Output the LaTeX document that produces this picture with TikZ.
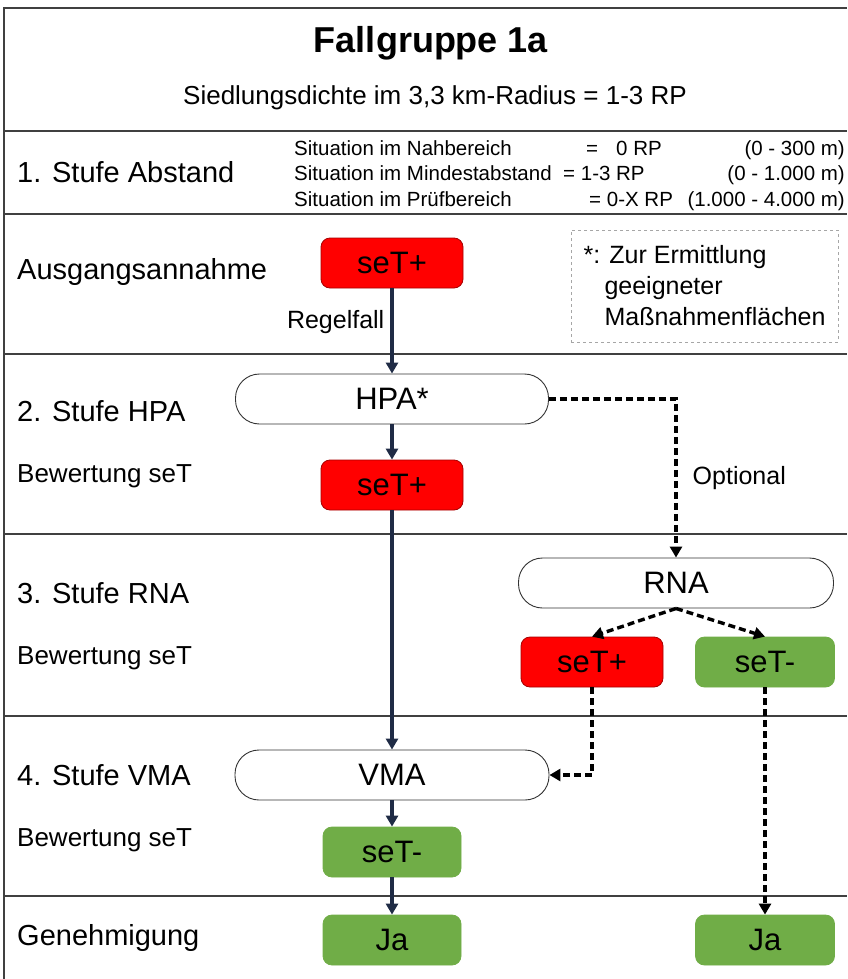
\documentclass[tikz,border=0pt]{standalone}
\usepackage{fontspec}
\setmainfont{Liberation Sans}
\usetikzlibrary{arrows.meta}
\definecolor{setred}{HTML}{FF0000}
\definecolor{setgreen}{HTML}{70AD47}
\definecolor{flowblue}{HTML}{1F2B45}
\newcommand\fsz[1]{\fontsize{#1}{#1}\selectfont}

\begin{document}
\begin{tikzpicture}[x=1pt,y=-1pt,
    sepline/.style={draw=gray!50!black,line width=1.6pt},
    stufe/.style={anchor=west,inner sep=0pt,font=\fsz{29}},
    bewert/.style={anchor=west,inner sep=0pt,font=\fsz{26}},
    sit/.style={inner sep=0pt,font=\fsz{20.5}},
    evalbox/.style={rounded corners=9pt,minimum width=142,minimum height=50,font=\fsz{31},line width=0.8pt},
    posbox/.style={evalbox,fill=setred,draw=red!65!black},
    negbox/.style={evalbox,fill=setgreen,draw=setgreen},
    pill/.style={draw=gray!40!black,fill=white,rounded corners=24pt,minimum height=50,font=\fsz{31},line width=0.9pt},
    flow/.style={-{Triangle[length=11pt,width=12pt]},draw=flowblue,line width=3.4pt},
    opt/.style={-{Triangle[length=11pt,width=12pt]},dash pattern=on 7pt off 4pt,line width=3.4pt}]
  \useasboundingbox (0,0) rectangle (847,979);

  \draw [sepline] (4,979) -- (4,8) -- (847,8);
  \foreach \y in {131,214,354,534,716,896}
    \draw [sepline] (4,\y) -- (847,\y);

  \draw (431,43) node[font=\bfseries\fsz{36}] (title) {Fallgruppe 1a};
  \draw (435,98) node[font=\fsz{26}] (sub) {Siedlungsdichte im 3,3 km-Radius = 1-3 RP};

  \draw (17,172) node[stufe] (s1) {1. Stufe Abstand};
  \draw (17,272) node[stufe] (s0) {Ausgangsannahme};
  \draw (17,411) node[stufe] (s2) {2. Stufe HPA};
  \draw (17,476) node[bewert] (b2) {Bewertung seT};
  \draw (17,593) node[stufe] (s3) {3. Stufe RNA};
  \draw (17,658) node[bewert] (b3) {Bewertung seT};
  \draw (17,775) node[stufe] (s4) {4. Stufe VMA};
  \draw (17,840) node[bewert] (b4) {Bewertung seT};
  \draw (17,938) node[stufe] (s5) {Genehmigung};

  \draw (294,155) node[sit,anchor=base west] (nah) {Situation im Nahbereich};
  \draw (586,155) node[sit,anchor=base west] (nahrp) {=};
  \draw (616,155) node[sit,anchor=base west] (nahval) {0 RP};
  \draw (845,155) node[sit,anchor=base east] (nahm) {(0 - 300 m)};
  \draw (294,180) node[sit,anchor=base west] (min) {Situation im Mindestabstand};
  \draw (563,180) node[sit,anchor=base west] (minrp) {= 1-3 RP};
  \draw (845,180) node[sit,anchor=base east] (minm) {(0 - 1.000 m)};
  \draw (294,206) node[sit,anchor=base west] (pruef) {Situation im Prüfbereich};
  \draw (589,206) node[sit,anchor=base west] (pruefrp) {= 0-X RP};
  \draw (845,206) node[sit,anchor=base east] (pruefm) {(1.000 - 4.000 m)};

  \draw (704.5,286) node[draw=gray!70,dashed,line width=0.9pt,minimum width=267,minimum height=112,
    align=left,font=\fontsize{25}{31}\selectfont] (note)
    {*: Zur Ermittlung\\\hspace*{21pt}geeigneter\\\hspace*{21pt}Maßnahmenflächen};

  \draw (392,263) node[posbox] (start) {seT+};
  \draw (392,399) node[pill,minimum width=313] (hpa) {HPA*};
  \draw (392,485) node[posbox] (hpaplus) {seT+};
  \draw (676,583) node[pill,minimum width=315] (rna) {RNA};
  \draw (592,662) node[posbox] (rnaplus) {seT+};
  \draw (765,662) node[negbox,minimum width=139] (rnaminus) {seT-};
  \draw (392,775) node[pill,minimum width=314] (vma) {VMA};
  \draw (392,852) node[negbox,minimum width=138] (vmaminus) {seT-};
  \draw (392,940) node[negbox,minimum width=138] (ja) {Ja};
  \draw (765,940) node[negbox,minimum width=139] (jaopt) {Ja};

  \draw [flow] (start) -- node[pos=0.4,left=6pt,inner sep=0pt,font=\fsz{25},text=black] {Regelfall} (hpa);
  \draw [flow] (hpa) -- (hpaplus);
  \draw [flow] (hpaplus) -- (vma);
  \draw [flow] (vma) -- (vmaminus);
  \draw [flow] (vmaminus) -- (ja);

  \draw [opt] (hpa.east) -| node[pos=0.75,right=15pt,inner sep=0pt,font=\fsz{25}] {Optional} (rna.north);
  \draw [opt] (rna.south) -- (rnaplus.north);
  \draw [opt] (rna.south) -- (rnaminus.north);
  \draw [opt] (rnaplus.south) |- (vma.east);
  \draw [opt] (rnaminus.south) -- (jaopt.north);
\end{tikzpicture}
\end{document}
